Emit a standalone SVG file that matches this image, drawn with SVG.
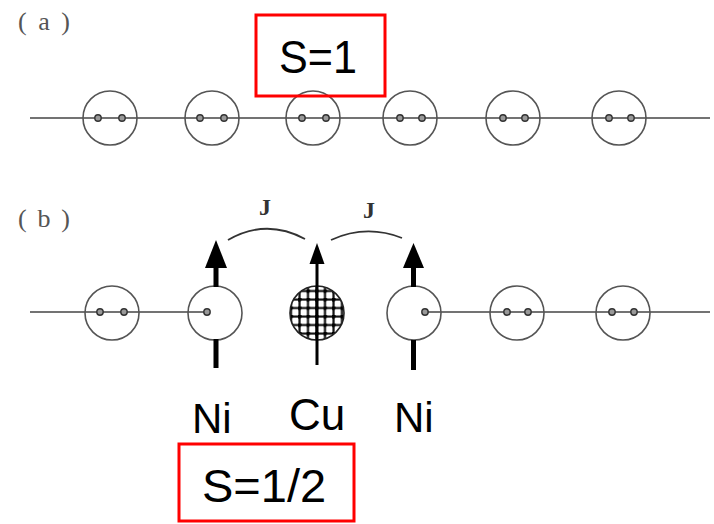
<svg xmlns="http://www.w3.org/2000/svg" width="714" height="524" viewBox="0 0 714 524">
<style>
.chain{stroke:#444;stroke-width:1.6;fill:none}
.site{fill:none;stroke:#555;stroke-width:1.6}
.dot{fill:#999;stroke:#333;stroke-width:1.4}
.lbl{font-family:"Liberation Serif",serif;fill:#555;font-size:26px}
.j{font-family:"Liberation Serif",serif;fill:#333;font-size:24px;font-weight:bold}
.big{font-family:"Liberation Sans",Arial,sans-serif;fill:#000}
.box{fill:none;stroke:#f00;stroke-width:3}
.arc{stroke:#333;stroke-width:1.8;fill:none}
.spin{fill:#000}
</style>
<defs>
<pattern id="mesh" x="0.5" y="0.5" width="8.5" height="8.5" patternUnits="userSpaceOnUse">
<rect width="8.5" height="8.5" fill="#fff"/>
<path d="M0,1.5H8.5M1.5,0V8.5" stroke="#111" stroke-width="2.2"/>
<circle cx="1.5" cy="1.5" r="2.2" fill="#000"/>
</pattern>
</defs>
<text class="lbl" x="18" y="30" xml:space="preserve" textLength="52" lengthAdjust="spacing">( a )</text>
<text class="lbl" x="18" y="227" xml:space="preserve" textLength="52" lengthAdjust="spacing">( b )</text>
<g id="connectors">
<line class="chain" x1="30" y1="118" x2="710" y2="118"/>
<line class="chain" x1="30" y1="312" x2="207" y2="312"/>
<line class="chain" x1="425" y1="312" x2="710" y2="312"/>
<path class="arc" d="M228,240 Q266,218 305,239"/>
<path class="arc" d="M331,240 Q366,224 402,238"/>
<text class="j" x="259" y="215">J</text>
<text class="j" x="363" y="218">J</text>
</g>
<g id="a1"><circle class="site" cx="110" cy="118" r="27"/><circle class="dot" cx="98" cy="118" r="3.2"/><circle class="dot" cx="122" cy="118" r="3.2"/></g>
<g id="a2"><circle class="site" cx="212" cy="118" r="27"/><circle class="dot" cx="200" cy="118" r="3.2"/><circle class="dot" cx="224" cy="118" r="3.2"/></g>
<g id="a3"><circle class="site" cx="313" cy="118" r="27"/><circle class="dot" cx="302" cy="118" r="3.2"/><circle class="dot" cx="326" cy="118" r="3.2"/></g>
<g id="a4"><circle class="site" cx="410" cy="118" r="27"/><circle class="dot" cx="400" cy="118" r="3.2"/><circle class="dot" cx="422" cy="118" r="3.2"/></g>
<g id="a5"><circle class="site" cx="513" cy="118" r="27"/><circle class="dot" cx="503" cy="118" r="3.2"/><circle class="dot" cx="525" cy="118" r="3.2"/></g>
<g id="a6"><circle class="site" cx="619" cy="118" r="27"/><circle class="dot" cx="609" cy="118" r="3.2"/><circle class="dot" cx="631" cy="118" r="3.2"/></g>
<g id="s1box"><rect class="box" x="256" y="15" width="129" height="81" fill="#fff"/><text class="big" x="279" y="73" font-size="47" textLength="78" lengthAdjust="spacingAndGlyphs">S=1</text></g>
<g id="b1"><circle class="site" cx="112" cy="313" r="27"/><circle class="dot" cx="100" cy="312" r="3.2"/><circle class="dot" cx="124" cy="312" r="3.2"/></g>
<g id="ni1"><circle class="site" cx="215" cy="313" r="27"/><circle class="dot" cx="207" cy="312" r="3.2"/>
<rect class="spin" x="213.5" y="266" width="5" height="21"/><polygon class="spin" points="216,240 205,268 227,268"/><rect class="spin" x="213.5" y="339" width="5" height="29"/></g>
<g id="cu"><circle cx="317" cy="313" r="27" fill="url(#mesh)" stroke="#222" stroke-width="1.6"/>
<rect class="spin" x="315.5" y="262" width="3" height="103"/><polygon class="spin" points="317,243 309.5,264 324.5,264"/></g>
<g id="ni2"><circle class="site" cx="414" cy="313" r="27" fill="#fff"/><circle class="dot" cx="425" cy="312" r="3.2"/>
<rect class="spin" x="411" y="266" width="5" height="21"/><polygon class="spin" points="413.5,243 403,268 424,268"/><rect class="spin" x="411" y="340" width="5" height="30"/></g>
<g id="b4"><circle class="site" cx="517" cy="313" r="27"/><circle class="dot" cx="507" cy="312" r="3.2"/><circle class="dot" cx="528" cy="312" r="3.2"/></g>
<g id="b5"><circle class="site" cx="623" cy="313" r="27"/><circle class="dot" cx="612" cy="312" r="3.2"/><circle class="dot" cx="634" cy="312" r="3.2"/></g>
<text class="big" x="192" y="433" font-size="42">Ni</text>
<text class="big" x="289" y="430" font-size="44">Cu</text>
<text class="big" x="394" y="432" font-size="42">Ni</text>
<g id="s2box"><rect class="box" x="179" y="444" width="175" height="77"/><text class="big" x="202" y="502" font-size="47">S=1/2</text></g>
</svg>
